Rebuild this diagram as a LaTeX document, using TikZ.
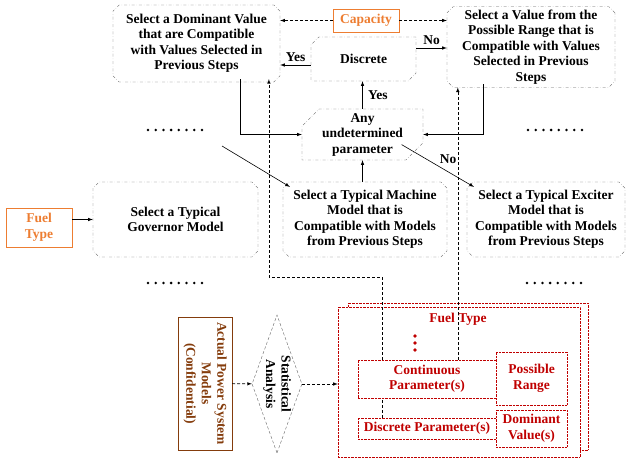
\documentclass[tikz,border=0pt]{standalone}
\usepackage{fontspec}
\setmainfont{Liberation Serif}
\usetikzlibrary{arrows,shapes,positioning}
\definecolor{boxgray}{RGB}{100,100,100}
\definecolor{fuelorange}{RGB}{237,125,49}
\definecolor{paramred}{RGB}{192,0,0}
\definecolor{modelbrown}{RGB}{132,60,12}

\begin{document}
\begin{tikzpicture}[x=1pt,y=-1pt,
  every node/.style={font=\bfseries\fontsize{13.5}{15.5}\selectfont},
  stepbox/.style={chamfered rectangle, chamfered rectangle xsep=3pt, draw=boxgray, dash dot, align=center, inner sep=0pt},
  halfbox/.style={stepbox, chamfered rectangle corners={north west,south east}, chamfered rectangle xsep=14pt},
  fuelbox/.style={draw=fuelorange, text=fuelorange, align=center, inner sep=0pt},
  redbox/.style={draw=paramred, densely dotted, text=paramred, align=center, fill=white, inner sep=0pt},
  solidarrow/.style={->, >=latex, semithick},
  dasharrow/.style={->, >=latex, semithick, dash pattern=on 3pt off 2pt}]
\useasboundingbox (0,0) rectangle (631,462);
%%%%%%%%%%%%%%%%
\node[stepbox, minimum width=167, minimum height=77] (dominant) at (196.5,43.5) {Select a Dominant Value\\that are Compatible\\with Values Selected in\\Previous Steps};
\node[fuelbox, minimum width=66, minimum height=23] (capacity) at (366,20.5) {Capacity};
\node[stepbox, minimum width=168, minimum height=78] (valuerange) at (531,47) {Select a Value from the\\Possible Range that is\\Compatible with Values\\Selected in Previous\\Steps};
\node[halfbox, minimum width=105, minimum height=44] (discrete) at (363.5,59) {Discrete};
\node[halfbox, minimum width=121, minimum height=51] (anyparam) at (362.5,134.5) {Any\\undetermined\\parameter};
%%%%%%%%%%%%%%%%
\node[fuelbox, minimum width=66, minimum height=39] (fueltype) at (39,227.5) {Fuel\\Type};
\node[stepbox, minimum width=165, minimum height=75] (governor) at (175.5,219.5) {Select a Typical\\Governor Model};
\node[stepbox, minimum width=164, minimum height=75] (machine) at (365,219.5) {Select a Typical Machine\\Model that is\\Compatible with Models\\from Previous Steps};
\node[stepbox, minimum width=158, minimum height=75] (exciter) at (546,219.5) {Select a Typical Exciter\\Model that is\\Compatible with Models\\from Previous Steps};
%%%%%%%%%%%%%%%%
\foreach \dx/\dy in {148/130, 528/130, 148/283, 527/283}
  \foreach \k in {0,...,7}
    \fill (\dx+\k*7.7,\dy) circle (1.4);
%%%%%%%%%%%%%%%%
\node[draw=modelbrown, text=modelbrown, align=center, rotate=-90, minimum width=133, minimum height=54, inner sep=0pt] (actual) at (205,383.5) {Actual Power System\\Models\\(Confidential)};
\node[diamond, draw=boxgray, densely dashed, align=center, rotate=-90, minimum width=138, minimum height=50, inner sep=0pt, aspect=2.76] (stat) at (277,384) {Statistical\\Analysis};
%%%%%%%%%%%%%%%%
\node[redbox, minimum width=240, minimum height=147] (fuelback) at (468,376.5) {};
\node[redbox, minimum width=242, minimum height=150] (fuelfront) at (459,382) {};
\node[text=paramred] (fuellabel) at (458,319) {Fuel Type};
\foreach \y in {336,343,350}
  \fill[paramred] (415,\y) circle (1.8);
\node[redbox, minimum width=138, minimum height=38] (contparam) at (427,379) {Continuous\\Parameter(s)};
\node[redbox, minimum width=71, minimum height=53] (posrange) at (531.5,378.5) {Possible\\Range};
\node[redbox, minimum width=138, minimum height=21] (discparam) at (427,428.5) {Discrete Parameter(s)};
\node[redbox, minimum width=71, minimum height=37] (domvalue) at (531.5,428.5) {Dominant\\Value(s)};
%%%%%%%%%%%%%%%%
\draw[dasharrow] (capacity.west) -- (capacity.west -| dominant.east);
\draw[dasharrow] (capacity.east) -- (capacity.east -| valuerange.west);
\draw[solidarrow] ([yshift=-6pt]discrete.west) -- ([yshift=-6pt]discrete.west -| dominant.east) node[midway, above] {Yes};
\draw[solidarrow] ([yshift=11pt]discrete.east) -- ([yshift=11pt]discrete.east -| valuerange.west) node[midway, above] {No};
\draw[solidarrow] (anyparam.north) -- (anyparam.north |- discrete.south) node[midway, right=2pt] {Yes};
\draw[solidarrow] ([xshift=124pt]dominant.south west) |- (anyparam.west);
\draw[solidarrow] ([xshift=33pt]valuerange.south west) |- (anyparam.east);
\draw[solidarrow] (anyparam.south |- machine.north) -- (anyparam.south);
\draw[solidarrow] ([xshift=-13pt,yshift=7pt]anyparam.south east) -- ([xshift=4pt,yshift=-2pt]exciter.north west) node[midway, above right=-2pt] {No};
\coordinate (dotsend) at (222,146);
\draw[solidarrow] (dotsend) -- ([xshift=4pt,yshift=-2pt]machine.north west);
\draw[solidarrow] (fueltype.east |- governor.west) -- (governor.west);
%%%%%%%%%%%%%%%%
\draw[dasharrow] (actual) -- (stat);
\draw[dasharrow] (stat) -- (stat -| fuelfront.west);
\draw[semithick, dash pattern=on 3pt off 2pt] ([xshift=24pt]discparam.north west) -- ([xshift=24pt]discparam.north west |- contparam.south);
\draw[dasharrow] ([xshift=24pt]contparam.north west) -- ++(0,-83) -| ([xshift=153pt]dominant.south west);
\draw[dasharrow] ([xshift=100pt]contparam.north west) -- ([xshift=100pt]contparam.north west |- valuerange.south);
\end{tikzpicture}
\end{document}
